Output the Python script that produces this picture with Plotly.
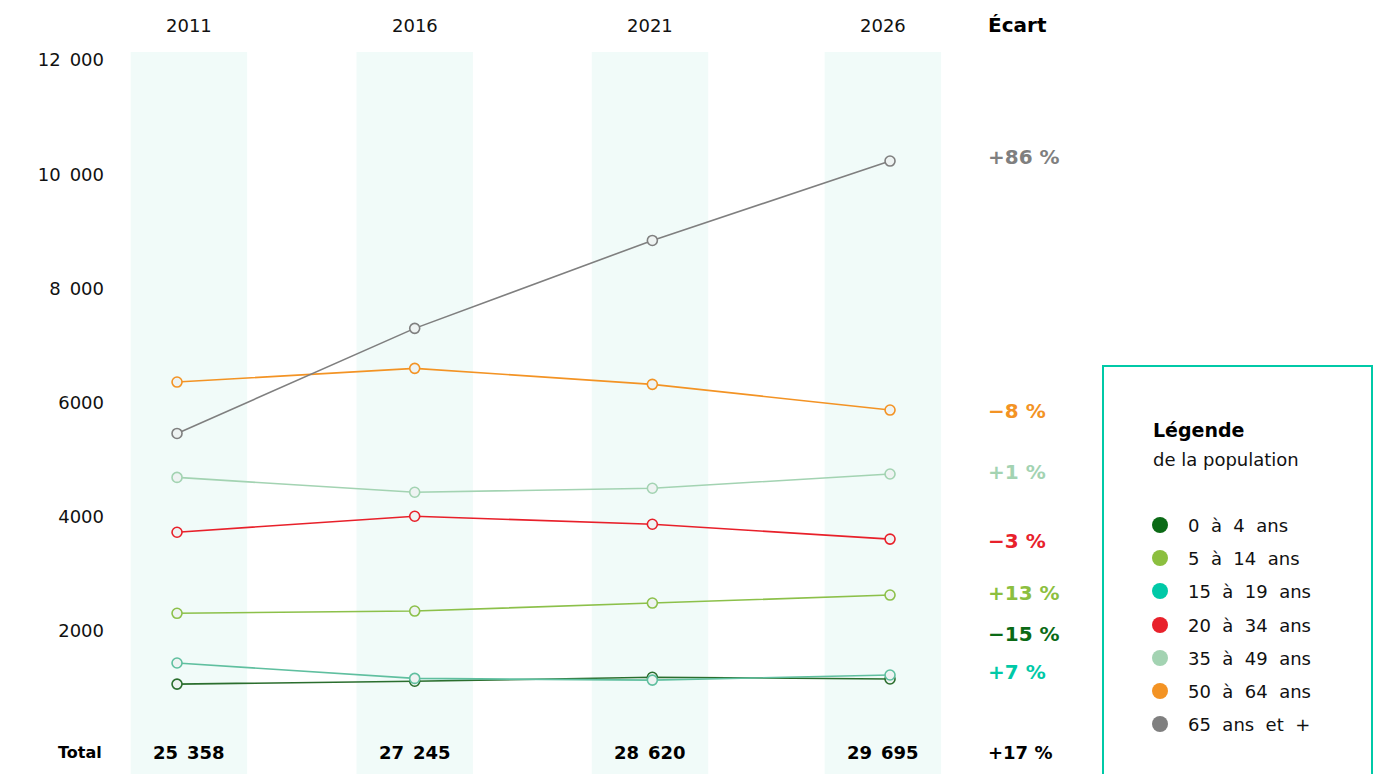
import plotly.graph_objects as go

years = ["2011", "2016", "2021", "2026"]
groups = ["0 à 4 ans", "5 à 14 ans", "15 à 19 ans", "20 à 34 ans",
          "35 à 49 ans", "50 à 64 ans", "65 ans et +"]
v_0_4 = [1070, 1120, 1190, 1160]
v_5_14 = [2310, 2350, 2490, 2630]
v_15_19 = [1440, 1170, 1140, 1230]
v_20_34 = [3730, 4010, 3870, 3610]
v_35_49 = [4690, 4430, 4500, 4750]
v_50_64 = [6360, 6600, 6320, 5870]
v_65 = [5460, 7300, 8840, 10230]
series_values = [v_0_4, v_5_14, v_15_19, v_20_34, v_35_49, v_50_64, v_65]

line_colors = ["#2b6e2e", "#8cc04a", "#5fbf9f", "#e8202a", "#a3d3b2", "#f39324", "#7f7f7f"]
legend_colors = ["#0b6a16", "#8cbf3f", "#00c9a7", "#e8212b", "#a3d3b2", "#f39324", "#7f7f7f"]

ecart_labels = ["+86 %", "−8 %", "+1 %", "−3 %", "+13 %", "−15 %", "+7 %"]
ecart_colors = ["#7f7f7f", "#f39324", "#a3d3b2", "#e8212b", "#8cbf3f", "#0b6a16", "#00c9a7"]
ecart_y = [10300, 5850, 4780, 3570, 2660, 1945, 1280]

totals = ["25\u2002358", "27\u2002245", "28\u2002620", "29\u2002695"]
total_ecart = "+17 %"

tick_vals = [2000, 4000, 6000, 8000, 10000, 12000]
tick_text = ["2000", "4000", "6000", "8\u2002000", "10\u2002000", "12\u2002000"]

W, H = 1382, 774
BODY = 8  # default page body margin
ML, MT = 115, 52  # plot area edges in page pixels
FONT = "DejaVu Sans"
GAP = "\u00a0\u00a0"

def px_x(p):
    return (p - ML) / (W - ML)

def px_y(p):
    return (H - p) / (H - MT)

xs = list(range(len(years)))
band_centers = [0.05, 1.0, 1.99, 2.97]
band_half = 0.245

fig = go.Figure()
for name, vals, col in zip(groups, series_values, line_colors):
    fig.add_trace(go.Scatter(
        x=xs, y=vals, mode="lines+markers", name=name,
        line=dict(color=col, width=1.6),
        marker=dict(size=10, color="#eef3f2", line=dict(color=col, width=1.6)),
        showlegend=False, hoverinfo="skip"))

shapes = []
for c in band_centers:
    shapes.append(dict(type="rect", xref="x", yref="paper", x0=c - band_half, x1=c + band_half,
                       y0=0, y1=1, fillcolor="#f1fbf9", line=dict(width=0), layer="below"))

# legend box
shapes.append(dict(type="rect", xref="paper", yref="paper",
                   x0=px_x(1103), x1=px_x(1372), y0=px_y(790), y1=px_y(366),
                   line=dict(color="#00c9a7", width=2), fillcolor="rgba(0,0,0,0)"))

annotations = []
for c, y in zip(band_centers, years):
    annotations.append(dict(x=c, y=px_y(25), xref="x", yref="paper", text=y, showarrow=False,
                            font=dict(family=FONT, size=18, color="#111"), xanchor="center", yanchor="middle"))
for c, t in zip(band_centers, totals):
    annotations.append(dict(x=c, y=px_y(752), xref="x", yref="paper", text="<b>" + t + "</b>",
                            showarrow=False, font=dict(family=FONT, size=18, color="#000"),
                            xanchor="center", yanchor="middle"))
annotations.append(dict(x=px_x(104), y=px_y(752), xref="paper", yref="paper", text="<b>Total</b>",
                        showarrow=False, font=dict(family=FONT, size=16, color="#000"),
                        xanchor="right", yanchor="middle"))
annotations.append(dict(x=px_x(986), y=px_y(25), xref="paper", yref="paper", text="<b>Écart</b>",
                        showarrow=False, font=dict(family=FONT, size=20, color="#000"),
                        xanchor="left", yanchor="middle"))
annotations.append(dict(x=px_x(986), y=px_y(752), xref="paper", yref="paper", text="<b>" + total_ecart + "</b>",
                        showarrow=False, font=dict(family=FONT, size=18, color="#000"),
                        xanchor="left", yanchor="middle"))
for lab, col, yv in zip(ecart_labels, ecart_colors, ecart_y):
    annotations.append(dict(x=px_x(986), y=yv, xref="paper", yref="y", text="<b>" + lab + "</b>",
                            showarrow=False, font=dict(family=FONT, size=20, color=col),
                            xanchor="left", yanchor="middle"))

annotations.append(dict(x=px_x(1151), y=px_y(430), xref="paper", yref="paper", text="<b>Légende</b>",
                        showarrow=False, font=dict(family=FONT, size=19, color="#000"),
                        xanchor="left", yanchor="middle"))
annotations.append(dict(x=px_x(1151), y=px_y(460), xref="paper", yref="paper", text="de la population",
                        showarrow=False, font=dict(family=FONT, size=18, color="#111"),
                        xanchor="left", yanchor="middle"))
legend_y = [525, 558, 591, 625, 658, 691, 724]
for name, col, ly in zip(groups, legend_colors, legend_y):
    shapes.append(dict(type="circle", xref="paper", yref="paper",
                       x0=px_x(1152), x1=px_x(1168), y0=px_y(ly + 8), y1=px_y(ly - 8),
                       fillcolor=col, line=dict(width=0)))
    annotations.append(dict(x=px_x(1186), y=px_y(ly), xref="paper", yref="paper",
                            text=name.replace(" ", GAP),
                            showarrow=False, font=dict(family=FONT, size=18, color="#111"),
                            xanchor="left", yanchor="middle"))

fig.update_layout(
    width=W, height=H, margin=dict(l=ML - BODY, r=BODY, t=MT - BODY, b=BODY),
    plot_bgcolor="white", paper_bgcolor="white",
    shapes=shapes, annotations=annotations,
    xaxis=dict(range=[-0.261, 5.07], showgrid=False, zeroline=False, showticklabels=False,
               showline=False, fixedrange=True),
    yaxis=dict(range=[-504, 12140], showgrid=False, zeroline=False, showline=False,
               tickvals=tick_vals, ticktext=tick_text, ticks="", ticklabelstandoff=10,
               tickfont=dict(family=FONT, size=18, color="#111"), fixedrange=True),
    showlegend=False,
)
fig.write_html("out.html")
